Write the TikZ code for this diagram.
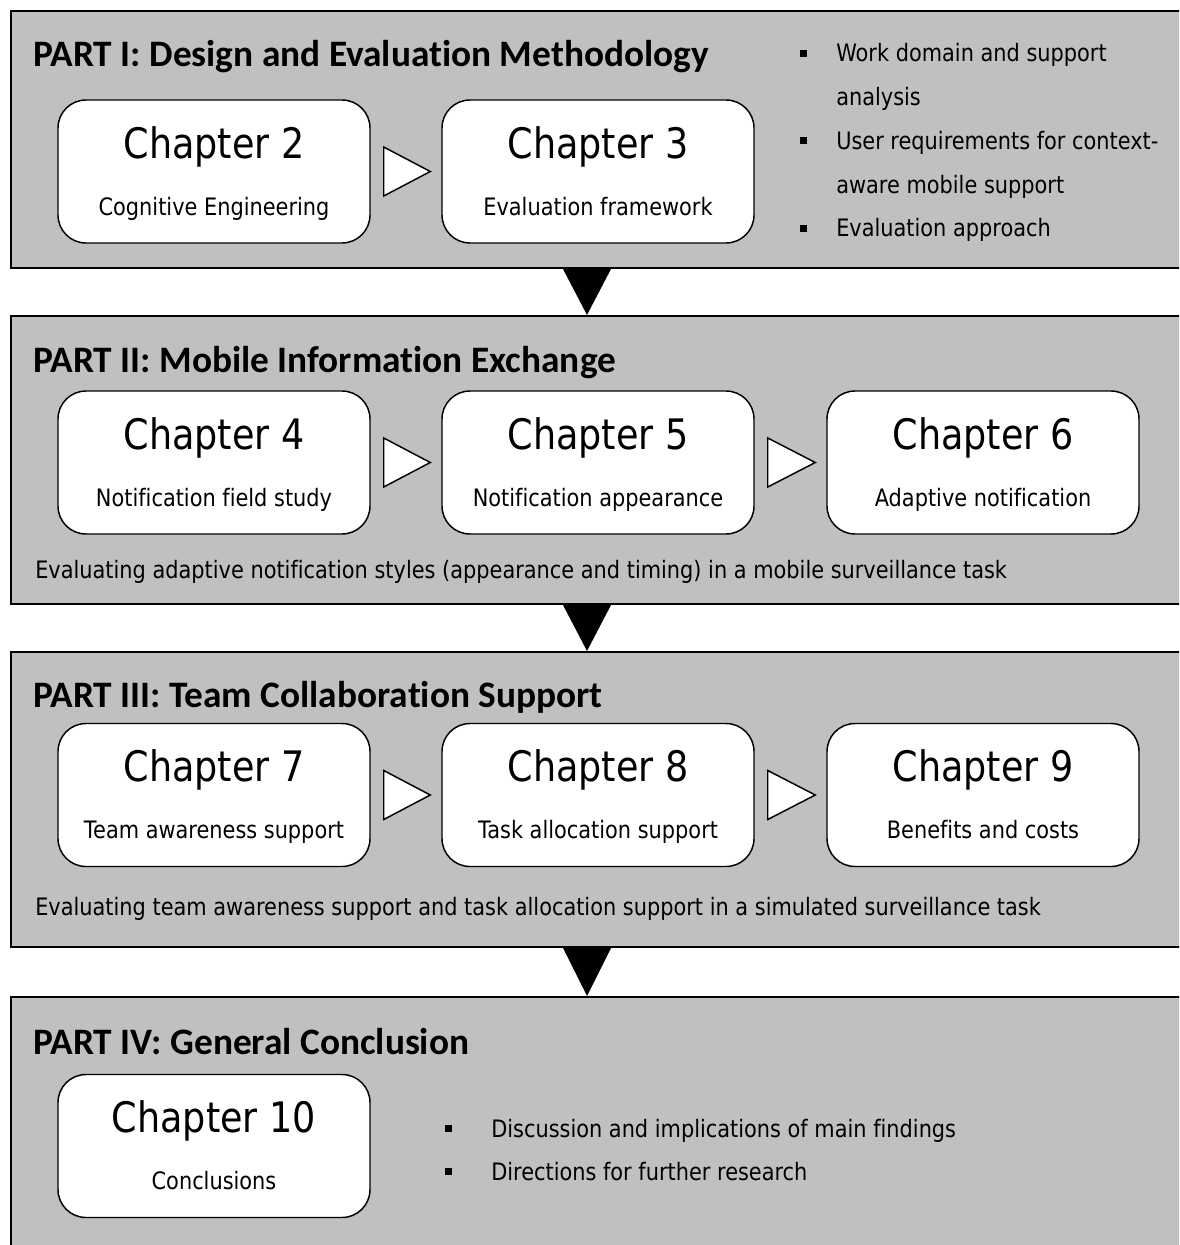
\documentclass[tikz,border=0pt]{standalone}
\usepackage{fontspec}
\usetikzlibrary{calc}
\newfontfamily\bodyfont[FakeStretch=0.87, RawFeature={-liga;-clig;-calt}]{DejaVu Sans}
\newfontfamily\headfont[RawFeature={-liga;-clig;-calt;-dlig}]{Carlito}
\definecolor{panelgray}{HTML}{C0C0C0}

\tikzset{
  panel/.style={draw=black, line width=1.5pt, fill=panelgray, rectangle,
    anchor=north west, inner sep=0pt, minimum width={1200*0.75pt}},
  chapbox/.style={draw=black, line width=1.1pt, fill=white, rectangle,
    rounded corners=21pt, inner sep=0pt,
    minimum width={312*0.75pt}, minimum height={143*0.75pt}},
  parttitle/.style={anchor=base west, inner sep=0pt,
    font=\headfont\bfseries\fontsize{28}{30}\selectfont},
  chaptitle/.style={anchor=base, inner sep=0pt,
    font=\bodyfont\fontsize{31.5}{34}\selectfont},
  chapsub/.style={anchor=base, inner sep=0pt,
    font=\bodyfont\fontsize{18}{20}\selectfont},
  bodytext/.style={anchor=base west, inner sep=0pt,
    font=\bodyfont\fontsize{18}{20}\selectfont},
  bulletsq/.style={fill=black, rectangle, inner sep=0pt, minimum size={7*0.75pt}},
  hollow/.style={draw=black, line width=1.1pt, fill=white, line join=miter},
  flowdown/.style={fill=black},
}

% hollow right-pointing triangle between two neighbouring chapter boxes
\newcommand\stepto[2]{%
  \draw[hollow] ($(#1.east)+(13,-24.5)$) -- ($(#2.west)+(-11,0)$)
    -- ($(#1.east)+(13,24.5)$) -- cycle;}

% chapter box with its number and subtitle
\newcommand\chapter[4]{%
  \node[chapbox] (#1) at (#2) {};
  \node[chaptitle] (#1t) at ($(#1.north)+(0,59)$) {#3};
  \node[chapsub] (#1s) at ($(#1.north)+(0,116)$) {#4};}

\begin{document}
\begin{tikzpicture}[x=0.75pt,y=-0.75pt]
\clip (0,0) rectangle (1179,1245);
\fill[white] (0,0) rectangle (1179,1245);

% the four parts
\node[panel, minimum height={257*0.75pt}] (p1) at (10,10) {};
\node[panel, minimum height={288*0.75pt}] (p2) at (10,315) {};
\node[panel, minimum height={295*0.75pt}] (p3) at (10,651) {};
\node[panel, minimum height={290*0.75pt}] (p4) at (10,996) {};

% flow from one part to the next
\fill[flowdown] ($(p1.south west)+(553,0)$) -- ($(p1.south west)+(601,0)$)
  -- ($(p2.north west)+(577,0)$) -- cycle;
\fill[flowdown] ($(p2.south west)+(553,0)$) -- ($(p2.south west)+(601,0)$)
  -- ($(p3.north west)+(577,0)$) -- cycle;
\fill[flowdown] ($(p3.south west)+(553,0)$) -- ($(p3.south west)+(601,0)$)
  -- ($(p4.north west)+(577,0)$) -- cycle;

% Part I
\node[parttitle] (t1) at (33,67) {PART I: Design and Evaluation Methodology};
\chapter{c2}{214,171.5}{Chapter 2}{Cognitive Engineering}
\chapter{c3}{598,171.5}{Chapter 3}{Evaluation framework}
\stepto{c2}{c3}
\node[bulletsq] (b1) at (803,54) {};
\node[bodytext] (l1) at (836,62) {Work domain and support};
\node[bodytext] (l2) at (836,106) {analysis};
\node[bulletsq] (b2) at (803,141) {};
\node[bodytext] (l3) at (836,150) {User requirements for context-};
\node[bodytext] (l4) at (836,193) {aware mobile support};
\node[bulletsq] (b3) at (803,228) {};
\node[bodytext] (l5) at (836,236) {Evaluation approach};

% Part II
\node[parttitle] (t2) at (33,372) {PART II: Mobile Information Exchange};
\chapter{c4}{214,462.5}{Chapter 4}{Notification field study}
\chapter{c5}{598,462.5}{Chapter 5}{Notification appearance}
\chapter{c6}{983,462.5}{Chapter 6}{Adaptive notification}
\stepto{c4}{c5}
\stepto{c5}{c6}
\node[bodytext] (n2) at (35,578) {Evaluating adaptive notification styles (appearance and timing) in a mobile surveillance task};

% Part III
\node[parttitle] (t3) at (33,707) {PART III: Team Collaboration Support};
\chapter{c7}{214,795}{Chapter 7}{Team awareness support}
\chapter{c8}{598,795}{Chapter 8}{Task allocation support}
\chapter{c9}{983,795}{Chapter 9}{Benefits and costs}
\stepto{c7}{c8}
\stepto{c8}{c9}
\node[bodytext] (n3) at (35,915) {Evaluating team awareness support and task allocation support in a simulated surveillance task};

% Part IV
\node[parttitle] (t4) at (33,1054) {PART IV: General Conclusion};
\chapter{c10}{214,1146}{Chapter 10}{Conclusions}
\node[bulletsq] (b4) at (448,1128) {};
\node[bodytext] (l6) at (491,1137) {Discussion and implications of main findings};
\node[bulletsq] (b5) at (448,1171) {};
\node[bodytext] (l7) at (491,1180) {Directions for further research};
\end{tikzpicture}
\end{document}
